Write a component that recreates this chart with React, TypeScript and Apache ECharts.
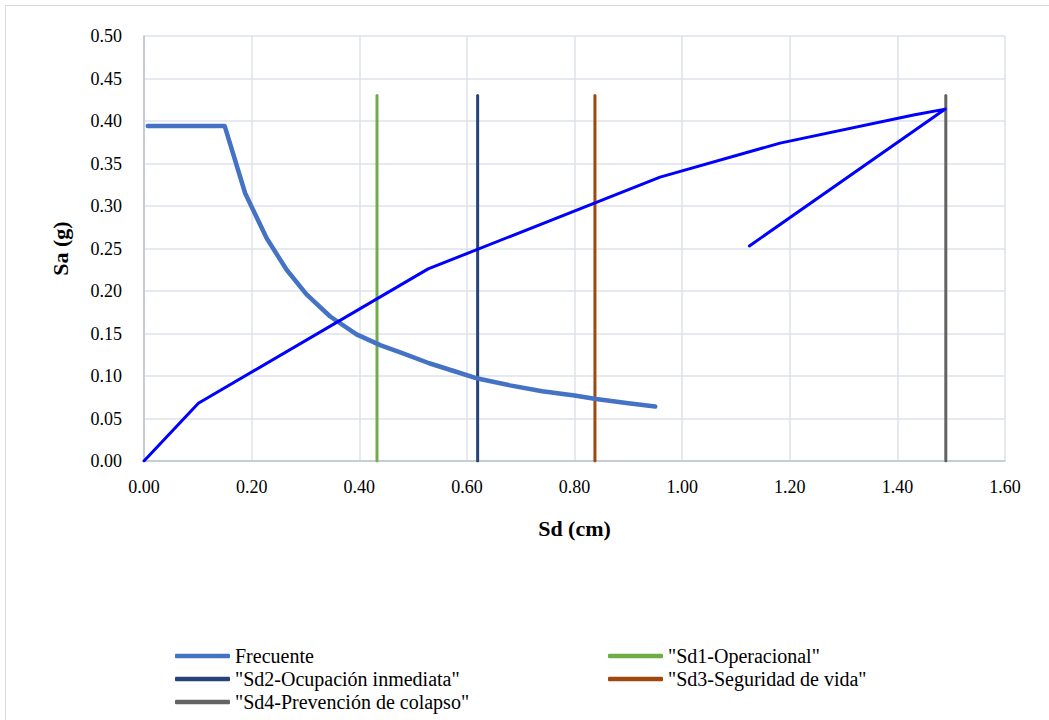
import React, { useEffect, useRef } from "react";
import * as echarts from "echarts";

// Demand spectrum "Frecuente" (Sd cm, Sa g)
const frecuenteSd = [0.007, 0.15, 0.188, 0.228, 0.265, 0.302, 0.346, 0.395, 0.44, 0.48, 0.53, 0.58, 0.62, 0.68, 0.74, 0.8, 0.84, 0.9, 0.95];
const frecuenteSa = [0.394, 0.394, 0.315, 0.262, 0.225, 0.196, 0.17, 0.149, 0.136, 0.127, 0.115, 0.105, 0.097, 0.089, 0.082, 0.077, 0.073, 0.068, 0.064];

// Capacity curve
const capSd = [0, 0.101, 0.528, 0.959, 1.182, 1.43, 1.489, 1.125];
const capSa = [0, 0.068, 0.226, 0.334, 0.374, 0.407, 0.414, 0.253];

// Performance points (vertical lines)
const levelNames = ['"Sd1-Operacional"', '"Sd2-Ocupación inmediata"', '"Sd3-Seguridad de vida"', '"Sd4-Prevención de colapso"'];
const levelSd = [0.433, 0.62, 0.838, 1.49];
const levelTop = 0.43;
const levelColors = ["#70AD47", "#264478", "#9E480E", "#636363"];

const FONT = "Times New Roman";

function buildOption(): any {
  const series: any[] = [
    {
      name: "Frecuente",
      type: "line",
      symbol: "none",
      data: frecuenteSd.map((x, i) => [x, frecuenteSa[i]]),
      lineStyle: { color: "#4472C4", width: 4.5, cap: "round", join: "round" },
      itemStyle: { color: "#4472C4" },
      z: 3,
    },
    ...levelNames.map((n, i) => ({
      name: n,
      type: "line",
      symbol: "none",
      data: [
        [levelSd[i], 0],
        [levelSd[i], levelTop],
      ],
      lineStyle: { color: levelColors[i], width: 3, cap: "round" },
      itemStyle: { color: levelColors[i] },
      z: 2,
    })),
    {
      name: "Capacidad",
      type: "line",
      symbol: "none",
      data: capSd.map((x, i) => [x, capSa[i]]),
      lineStyle: { color: "#0000FF", width: 3, cap: "round", join: "round" },
      itemStyle: { color: "#0000FF" },
      z: 4,
    },
  ];
  const lc: any = {
    orient: "vertical",
    top: 646,
    itemWidth: 55,
    itemHeight: 4.5,
    itemGap: 3,
    padding: 0,
    icon: "roundRect",
    textStyle: { fontFamily: FONT, fontSize: 20, color: "#000", lineHeight: 20 },
    selectedMode: false,
  };
  return {
    animation: false,
    textStyle: { fontFamily: FONT },
    graphic: [
      {
        type: "rect",
        shape: { x: 5.5, y: 5.5, width: 1100, height: 800 },
        style: { fill: "none", stroke: "#D9D9D9", lineWidth: 1 },
        silent: true,
      },
    ],
    grid: { left: 144, right: 44, top: 36, bottom: 259 },
    xAxis: {
      type: "value",
      min: 0,
      max: 1.6,
      interval: 0.2,
      name: "Sd (cm)",
      nameLocation: "middle",
      nameGap: 56,
      nameTextStyle: { fontFamily: FONT, fontSize: 22, fontWeight: "bold", color: "#000" },
      axisLine: { show: true, lineStyle: { color: "#BCC3D0", width: 1.5 } },
      axisTick: { show: false },
      axisLabel: { fontFamily: FONT, fontSize: 18, color: "#000", margin: 17, formatter: (v: number) => v.toFixed(2) },
      splitLine: { show: true, lineStyle: { color: "#DEE2E8", width: 1.5 } },
    },
    yAxis: {
      type: "value",
      min: 0,
      max: 0.5,
      interval: 0.05,
      name: "Sa (g)",
      nameLocation: "middle",
      nameGap: 73,
      nameTextStyle: { fontFamily: FONT, fontSize: 22, fontWeight: "bold", color: "#000" },
      axisLine: { show: true, lineStyle: { color: "#BCC3D0", width: 1.5 } },
      axisTick: { show: false },
      axisLabel: { fontFamily: FONT, fontSize: 18, color: "#000", margin: 22, formatter: (v: number) => v.toFixed(2) },
      splitLine: { show: true, lineStyle: { color: "#DEE2E8", width: 1.5 } },
    },
    legend: [
      { ...lc, left: 175, data: ["Frecuente", levelNames[1], levelNames[3]] },
      { ...lc, left: 608, data: [levelNames[0], levelNames[2]] },
    ],
    series,
  };
}

function Chart() {
  const ref = useRef<HTMLDivElement>(null);
  useEffect(() => {
    if (!ref.current) return;
    const c = echarts.init(ref.current, undefined, { renderer: "svg" });
    c.setOption(buildOption());
    return () => c.dispose();
  }, []);
  return (
    <div
      ref={ref}
      style={{ position: "fixed", left: 0, top: 0, width: 1049, height: 720, background: "#fff", fontFamily: FONT }}
    />
  );
}

export default function App() {
  return (
    <div>
      <Chart />
    </div>
  );
}
